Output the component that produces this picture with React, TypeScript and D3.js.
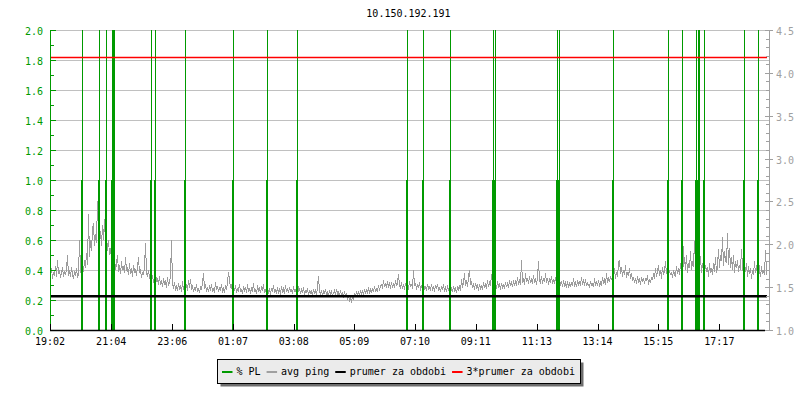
import React from 'react';
import * as d3 from 'd3';

const title = '10.150.192.191';
const startClock = '19:02';
const spanMinutes = 1430;
const xTickLabels = ['19:02', '21:04', '23:06', '01:07', '03:08', '05:09', '07:10', '09:11', '11:13', '13:14', '15:15', '17:17'];
const leftTicks = [0, 0.2, 0.4, 0.6, 0.8, 1.0, 1.2, 1.4, 1.6, 1.8, 2.0];
const rightTicks = [1.0, 1.5, 2.0, 2.5, 3.0, 3.5, 4.0, 4.5];

const plTimes = ['20:06', '20:40', '20:54', '21:06', '21:08', '21:10', '22:23', '22:31', '23:31', '01:07', '02:15', '03:15',
  '06:54', '07:26', '08:20', '09:46', '09:50', '11:53', '11:57', '13:45', '15:35', '16:03', '16:30', '16:34', '16:36',
  '16:46', '18:06', '18:34'];
const plValues = [1, 1, 1, 1, 1, 1, 1, 1, 1, 1, 1, 1, 1, 1, 1, 1, 1, 1, 1, 1, 1, 1, 1, 1, 1, 1, 1, 1];

const pingStepMinutes = 2;
const avgPing = [
  1.66, 1.72, 1.60, 1.68, 1.63, 1.75, 1.62, 1.82, 1.65, 1.70, 1.61, 1.67, 1.73, 1.62, 1.69, 1.64, 1.71, 1.88, 1.63, 1.70,
  1.62, 1.74, 1.65, 1.60, 1.69, 1.63, 1.72, 1.61, 1.66, 2.05, 1.70, 1.64, 1.78, 1.68, 1.82, 1.72, 1.90, 1.76, 2.35, 1.85,
  2.05, 1.92, 2.18, 2.25, 1.98, 2.12, 2.02, 2.50, 2.20, 2.08, 2.15, 1.98, 2.22, 2.05, 2.30, 2.00, 2.12, 1.92, 2.05, 1.88,
  1.96, 1.82, 1.90, 1.75, 1.84, 1.70, 1.78, 1.88, 1.68, 1.76, 1.65, 1.80, 1.70, 1.74, 1.66, 1.85, 1.69, 1.72, 1.64, 1.78,
  1.65, 1.72, 1.62, 1.76, 1.68, 1.70, 1.63, 1.74, 1.85, 1.66, 1.71, 1.61, 1.68, 1.64, 1.73, 2.02, 1.66, 1.62, 1.70, 1.60,
  1.66, 1.58, 1.64, 1.55, 1.62, 1.68, 1.56, 1.60, 1.53, 1.63, 1.52, 1.58, 1.50, 1.60, 1.54, 1.57, 1.49, 1.62, 1.51, 1.56,
  1.62, 2.05, 1.54, 1.48, 1.56, 1.46, 1.52, 1.45, 1.55, 1.48, 1.51, 1.44, 1.57, 1.47, 1.50, 1.45, 1.53, 1.46, 1.58, 1.49,
  1.60, 1.47, 1.52, 1.44, 1.50, 1.46, 1.54, 1.45, 1.49, 1.43, 1.51, 1.47, 1.55, 1.66, 1.48, 1.53, 1.45, 1.50, 1.44, 1.52,
  1.46, 1.54, 1.45, 1.49, 1.43, 1.56, 1.47, 1.51, 1.44, 1.50, 1.46, 1.53, 1.45, 1.48, 1.43, 1.52, 1.47, 1.55, 1.68, 1.49,
  1.53, 1.44, 1.50, 1.46, 1.52, 1.43, 1.49, 1.45, 1.54, 1.44, 1.48, 1.42, 1.51, 1.46, 1.50, 1.43, 1.53, 1.45, 1.49, 1.42,
  1.50, 1.45, 1.55, 1.44, 1.48, 1.42, 1.52, 1.46, 1.49, 1.43, 1.51, 1.45, 1.54, 1.43, 1.48, 1.42, 1.50, 1.44, 1.47, 1.41,
  1.49, 1.45, 1.52, 1.43, 1.48, 1.42, 1.50, 1.44, 1.47, 1.41, 1.51, 1.45, 1.48, 1.42, 1.53, 1.44, 1.49, 1.43, 1.50, 1.45,
  1.47, 1.42, 1.51, 1.44, 1.48, 1.41, 1.57, 1.45, 1.49, 1.42, 1.47, 1.43, 1.50, 1.41, 1.46, 1.44, 1.49, 1.40, 1.47, 1.43,
  1.45, 1.40, 1.48, 1.43, 1.46, 1.41, 1.50, 1.63, 1.45, 1.42, 1.47, 1.40, 1.45, 1.43, 1.48, 1.41, 1.44, 1.39, 1.47, 1.42,
  1.45, 1.40, 1.43, 1.46, 1.41, 1.48, 1.42, 1.44, 1.39, 1.46, 1.41, 1.43, 1.38, 1.45, 1.40, 1.42, 1.37, 1.41, 1.33, 1.38,
  1.32, 1.40, 1.35, 1.43, 1.39, 1.45, 1.41, 1.44, 1.40, 1.47, 1.42, 1.45, 1.41, 1.48, 1.43, 1.46, 1.42, 1.50, 1.44, 1.47,
  1.43, 1.49, 1.45, 1.51, 1.44, 1.48, 1.46, 1.52, 1.47, 1.50, 1.54, 1.48, 1.58, 1.50, 1.55, 1.49, 1.57, 1.51, 1.54, 1.48,
  1.56, 1.50, 1.53, 1.49, 1.58, 1.51, 1.55, 1.65, 1.52, 1.49, 1.56, 1.48, 1.53, 1.47, 1.55, 1.50, 1.52, 1.47, 1.57, 1.50,
  1.54, 1.48, 1.70, 1.51, 1.55, 1.47, 1.53, 1.49, 1.56, 1.46, 1.52, 1.48, 1.55, 1.47, 1.51, 1.45, 1.54, 1.48, 1.50, 1.46,
  1.53, 1.47, 1.50, 1.45, 1.52, 1.48, 1.54, 1.46, 1.50, 1.44, 1.51, 1.47, 1.53, 1.45, 1.49, 1.44, 1.52, 1.46, 1.50, 1.45,
  1.48, 1.44, 1.51, 1.46, 1.49, 1.43, 1.50, 1.47, 1.52, 1.45, 1.60, 1.49, 1.55, 1.66, 1.51, 1.58, 1.50, 1.62, 1.70, 1.53,
  1.56, 1.50, 1.53, 1.47, 1.55, 1.49, 1.52, 1.46, 1.54, 1.48, 1.51, 1.47, 1.56, 1.49, 1.53, 1.48, 1.58, 1.50, 1.55, 1.51,
  1.65, 1.52, 1.56, 1.49, 1.54, 1.48, 1.57, 1.50, 1.53, 1.47, 1.55, 1.49, 1.52, 1.48, 1.56, 1.50, 1.54, 1.49, 1.58, 1.51,
  1.55, 1.50, 1.58, 1.52, 1.56, 1.51, 1.62, 1.53, 1.57, 1.52, 1.82, 1.55, 1.60, 1.53, 1.66, 1.56, 1.61, 1.54, 1.63, 1.55,
  1.59, 1.54, 1.64, 1.55, 1.60, 1.53, 1.62, 1.80, 1.58, 1.55, 1.63, 1.54, 1.60, 1.56, 1.66, 1.55, 1.61, 1.53, 1.59, 1.56,
  1.63, 1.54, 1.58, 1.55, 1.62, 1.53, 1.68, 1.56, 1.60, 1.52, 1.57, 1.50, 1.58, 1.52, 1.55, 1.49, 1.57, 1.51, 1.54, 1.50,
  1.56, 1.51, 1.60, 1.52, 1.55, 1.50, 1.58, 1.53, 1.56, 1.51, 1.62, 1.53, 1.57, 1.52, 1.59, 1.51, 1.55, 1.50, 1.57, 1.52,
  1.54, 1.50, 1.60, 1.53, 1.56, 1.51, 1.58, 1.52, 1.55, 1.51, 1.62, 1.54, 1.58, 1.53, 1.66, 1.55, 1.60, 1.56, 1.63, 1.58,
  1.64, 1.58, 1.72, 1.60, 1.68, 1.62, 1.78, 1.82, 1.65, 1.74, 1.62, 1.70, 1.64, 1.76, 1.61, 1.68, 1.63, 1.72, 1.60, 1.66,
  1.57, 1.62, 1.55, 1.60, 1.54, 1.63, 1.56, 1.59, 1.53, 1.62, 1.56, 1.60, 1.54, 1.61, 1.57, 1.64, 1.53, 1.59, 1.55, 1.62,
  1.58, 1.66, 1.60, 1.72, 1.62, 1.68, 1.76, 1.63, 1.70, 1.60, 1.74, 1.64, 1.69, 1.80, 1.65, 1.72, 1.62, 1.70, 1.64, 1.68,
  1.61, 1.70, 1.65, 1.62, 1.75, 1.66, 1.72, 1.64, 1.78, 1.68, 2.24, 1.74, 1.85, 1.70, 1.88, 1.67, 1.78, 1.72, 1.92, 1.70,
  1.80, 1.74, 2.04, 1.75, 1.85, 1.68, 1.80, 1.72, 1.86, 1.66, 1.78, 1.70, 1.65, 1.76, 1.68, 1.73, 1.62, 1.78, 1.66, 1.72,
  1.64, 1.78, 1.68, 1.85, 1.66, 1.74, 1.95, 1.72, 1.88, 1.80, 2.09, 1.75, 1.92, 1.82, 1.78, 2.13, 1.76, 1.96, 1.72, 1.85,
  1.70, 1.88, 1.66, 1.80, 1.72, 1.82, 1.68, 1.76, 1.70, 1.95, 1.74, 1.65, 1.80, 1.68, 1.78, 1.62, 1.74, 1.66, 1.72, 1.60,
  1.70, 1.64, 1.80, 1.66, 1.76, 1.63, 1.85, 1.68, 1.62, 1.74, 1.66, 1.70, 1.64, 1.93, 1.68, 1.60, 1.66,
];
const meanPing = 1.393;

const legendLabels = ['% PL', 'avg ping', 'prumer za obdobi', '3*prumer za obdobi'];
const legendColors = ['#009a00', '#a0a0a0', '#000000', '#ff0000'];

const GREEN = '#009a00';
const GRAY = '#a0a0a0';
const GRID = '#c0c0c0';
const FONT = '"DejaVu Sans Mono", "Liberation Mono", monospace';
const CHAR_W = 6.02;

function clockToOffset(clock: string): number {
  const [h, m] = clock.split(':').map(Number);
  const [sh, sm] = startClock.split(':').map(Number);
  let d = h * 60 + m - (sh * 60 + sm);
  if (d < 0) d += 1440;
  return d;
}

export default function App() {
  const W = 800, H = 400;
  const left = 50, right = 767, top = 30, bottom = 330;
  const x = d3.scaleLinear().domain([0, spanMinutes]).range([left, right]);
  const yL = d3.scaleLinear().domain([0, 2]).range([bottom, top]);
  const yR = d3.scaleLinear().domain([1, 4.5]).range([bottom, top]);
  const fmt = d3.format('.1f');
  const snap = (v: number) => Math.round(v) + 0.5;

  const pingLine = d3.line<number>()
    .x((_, i) => Math.round(x(i * pingStepMinutes)) + 0.5)
    .y((d) => yR(d))(avgPing) || '';

  const leftMinor = d3.range(0, 2.0001, 0.1);
  const rightMinor = d3.range(1, 4.5001, 0.1);

  const legX = 217.5, legY = 359.5, legW = 363, legH = 24;
  let cursor = 222;
  const legendItems = legendLabels.map((lab, i) => {
    const item = { lab, color: legendColors[i], sx: cursor, tx: cursor + 14.5 };
    cursor = item.tx + lab.length * CHAR_W + 6;
    return item;
  });

  const xTicks = xTickLabels.map((l) => ({ l, v: clockToOffset(l) }));
  const axisRightX = 769.5;

  return (
    <svg width={W} height={H} style={{ position: 'absolute', left: 0, top: 0, background: '#fff' }}
      fontFamily={FONT} fontSize={10}>
      <defs>
        <clipPath id="plot">
          <rect x={left} y={top} width={right - left} height={bottom - top} />
        </clipPath>
      </defs>
      <rect x={0} y={0} width={W} height={H} fill="#fff" />
      <text x={(left + right) / 2} y={17} textAnchor="middle" fill="#000">{title}</text>

      {leftTicks.filter((t) => t > 0).map((t) => (
        <line key={'g' + t} x1={left} x2={axisRightX} y1={snap(yL(t))} y2={snap(yL(t))} stroke={GRID} strokeWidth={1} />
      ))}

      <g clipPath="url(#plot)">
        <path d={pingLine} fill="none" stroke="#9c9c9c" strokeWidth={1} shapeRendering="crispEdges" />
      </g>

      <g shapeRendering="crispEdges">
        {plTimes.map((t, i) => {
          const px = Math.round(x(clockToOffset(t)));
          return (
            <g key={'pl' + i}>
              <line x1={px} x2={px} y1={yL(0)} y2={yL(plValues[i])} stroke={GREEN} strokeWidth={2} />
              <line x1={px + 0.5} x2={px + 0.5} y1={yL(plValues[i])} y2={yL(2)} stroke={GREEN} strokeWidth={1} />
            </g>
          );
        })}
      </g>

      <line x1={left} x2={right} y1={yR(meanPing)} y2={yR(meanPing)} stroke="#000" strokeWidth={2.5} />
      <line x1={left} x2={right} y1={yR(3 * meanPing)} y2={yR(3 * meanPing)} stroke="#ff0000" strokeWidth={1.5} />

      <line x1={left + 0.5} x2={left + 0.5} y1={top} y2={bottom} stroke={GREEN} strokeWidth={1} />
      {leftMinor.map((t, i) => (
        <line key={'lm' + i} x1={left} x2={left + (i % 2 === 0 ? 6 : 4)} y1={snap(yL(t))} y2={snap(yL(t))} stroke={GREEN} strokeWidth={1} />
      ))}
      {leftTicks.map((t) => (
        <text key={'lt' + t} x={43} y={yL(t) + 5} textAnchor="end" fill={GREEN}>{fmt(t)}</text>
      ))}

      <line x1={axisRightX} x2={axisRightX} y1={top} y2={bottom} stroke={GRAY} strokeWidth={1} />
      {rightMinor.map((t, i) => (
        <line key={'rm' + i} x1={i % 5 === 0 ? 765 : 766} x2={i % 5 === 0 ? 773 : 770} y1={snap(yR(t))} y2={snap(yR(t))} stroke={GRAY} strokeWidth={1} />
      ))}
      {rightTicks.map((t) => (
        <text key={'rt' + t} x={776} y={yR(t) + 5} textAnchor="start" fill={GRAY}>{fmt(t)}</text>
      ))}

      <line x1={left} x2={765} y1={bottom + 0.5} y2={bottom + 0.5} stroke="#000" strokeWidth={1.5} />
      {xTicks.map((t) => {
        const px = snap(x(t.v));
        return (
          <g key={'xt' + t.l}>
            <line x1={px} x2={px} y1={bottom} y2={bottom - 6} stroke="#000" strokeWidth={1} />
            <text x={x(t.v)} y={345} textAnchor="middle" fill="#000">{t.l}</text>
          </g>
        );
      })}

      <rect x={legX + 3} y={legY + 3} width={legW} height={legH} fill="#6e6e6e" />
      <rect x={legX} y={legY} width={legW} height={legH} fill="#ebebeb" stroke="#000" strokeWidth={1} />
      {legendItems.map((it) => (
        <g key={'lg' + it.lab}>
          <line x1={it.sx} x2={it.sx + 10.5} y1={372} y2={372} stroke={it.color} strokeWidth={2} />
          <text x={it.tx} y={375} fill="#000">{it.lab}</text>
        </g>
      ))}
    </svg>
  );
}
